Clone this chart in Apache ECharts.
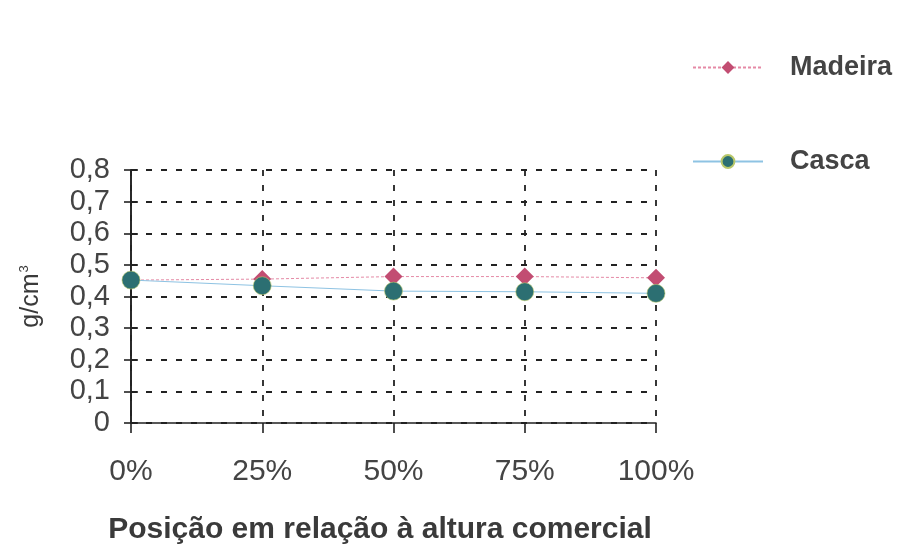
<!DOCTYPE html>
<html>
<head>
<meta charset="utf-8">
<script src="https://cdn.jsdelivr.net/npm/echarts@6/dist/echarts.min.js"></script>
<style>
  html, body { margin: 0; padding: 0; background: #fff; }
  #chart { width: 901px; height: 548px; }
</style>
</head>
<body>
<div id="chart"></div>
<script>
// Positions along the commercial height
const positions = ['0%', '25%', '50%', '75%', '100%'];
// Basic density (g/cm3)
const madeira = [0.452, 0.455, 0.463, 0.463, 0.459];
const casca = [0.452, 0.434, 0.417, 0.415, 0.410];
const yTicks = [0, 0.1, 0.2, 0.3, 0.4, 0.5, 0.6, 0.7, 0.8];

const FONT = '"Liberation Sans", Arial, sans-serif';
const TEXT = '#3a3a3a';
const dashed = { color: '#222', width: 1.8, type: [6, 9] };

const chart = echarts.init(document.getElementById('chart'), null, { renderer: 'canvas' });

const yBase = {
  type: 'value',
  min: yTicks[0],
  max: yTicks[yTicks.length - 1],
  interval: 0.1,
  axisLine: { show: true, lineStyle: { color: '#222', width: 1.6 } }
};

chart.setOption({
  backgroundColor: '#fff',
  animation: false,
  grid: { left: 131, right: 245, top: 170, bottom: 125, containLabel: false },
  legend: {
    orient: 'vertical',
    left: 687,
    top: 49,
    itemWidth: 70,
    itemHeight: 16,
    itemGap: 67,
    textStyle: { fontFamily: FONT, fontSize: 27, fontWeight: 'bold', color: '#444', padding: [0, 0, 0, 22] },
    data: ['Madeira', 'Casca']
  },
  xAxis: {
    type: 'category',
    data: positions,
    boundaryGap: false,
    axisLine: { lineStyle: { color: '#222', width: 1.6 } },
    axisTick: { show: true, length: 10, lineStyle: { color: '#222', width: 1.6 } },
    axisLabel: { fontFamily: FONT, fontSize: 30, color: '#444', margin: 34 },
    splitLine: { show: true, lineStyle: dashed },
    name: 'Posição em relação à altura comercial',
    nameLocation: 'middle',
    nameGap: 92,
    nameTextStyle: { fontFamily: FONT, fontSize: 30, fontWeight: 'bold', color: TEXT, padding: [0, 27, 0, 0] }
  },
  yAxis: [
    Object.assign({}, yBase, {
      axisTick: { show: true, length: 7, lineStyle: { color: '#222', width: 1.6 } },
      axisLabel: {
        fontFamily: FONT, fontSize: 29, color: '#444', margin: 21,
        formatter: v => (Math.round(v * 10) / 10).toString().replace('.', ',')
      },
      splitLine: { show: true, lineStyle: dashed },
      name: '{a|g/cm}{b|3}',
      nameLocation: 'middle',
      nameRotate: 90,
      nameGap: 86,
      nameTextStyle: {
        rich: {
          a: { fontFamily: FONT, fontSize: 25, color: TEXT },
          b: { fontFamily: FONT, fontSize: 13, color: TEXT, verticalAlign: 'top', padding: [0, 0, 14, 1] }
        }
      }
    }),
    Object.assign({}, yBase, {
      position: 'left',
      axisTick: { show: true, inside: true, length: 7, lineStyle: { color: '#222', width: 1.6 } },
      axisLabel: { show: false },
      splitLine: { show: false }
    })
  ],
  series: [
    {
      name: 'Madeira',
      type: 'line',
      data: madeira,
      symbol: 'diamond',
      symbolSize: 18,
      itemStyle: { color: '#c24d72' },
      lineStyle: { color: '#e58aa6', width: 1, type: [3, 2] },
      z: 2
    },
    {
      name: 'Casca',
      type: 'line',
      data: casca,
      symbol: 'circle',
      symbolSize: 18,
      itemStyle: { color: '#2c6f72', borderColor: '#b9c86a', borderWidth: 0.6 },
      lineStyle: { color: '#8ec3e3', width: 1 },
      z: 3
    }
  ]
});
</script>
</body>
</html>
